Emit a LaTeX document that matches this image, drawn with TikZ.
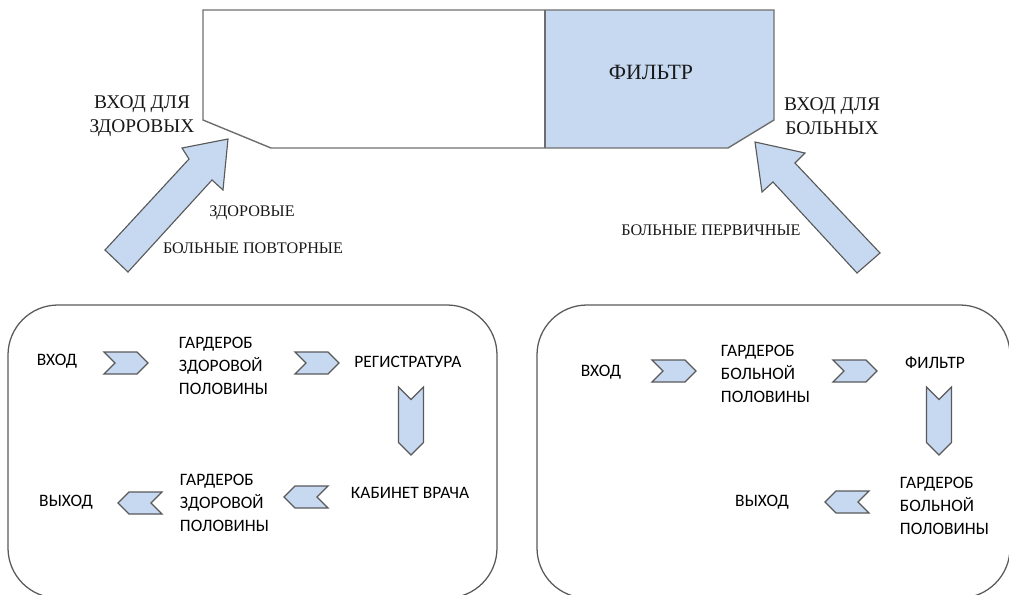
\documentclass[tikz,border=0pt]{standalone}
\usepackage{fontspec}
\setmainfont{Liberation Serif}
\newfontfamily\calfont{Carlito}
\usepackage{xcolor}
\usepackage{tikz}
\usetikzlibrary{shapes.symbols}
\definecolor{wdBlue}{HTML}{C6D9F1}
\definecolor{wdLine}{HTML}{595959}
\definecolor{wdWall}{HTML}{6E6E6E}

\tikzset{
  serifbig/.style={font=\fontsize{13.8}{17}\selectfont,align=center,black!90},
  serifsmall/.style={font=\fontsize{11.5}{14}\selectfont,black!90},
  room/.style={font=\calfont\fontsize{12.4}{16.4}\selectfont,align=left,black},
  chev/.style={signal,draw=wdLine,fill=wdBlue,line width=0.9pt,inner sep=0pt,
    minimum width=1.1cm,minimum height=0.55cm},
  chevdown/.style={signal,draw=wdLine,fill=wdBlue,line width=0.9pt,inner sep=0pt,
    minimum width=0.625cm,minimum height=1.075cm,signal from=north,signal to=south}
}

\begin{document}
\begin{tikzpicture}[x=0.025cm,y=-0.025cm]
\useasboundingbox (0,0) rectangle (1009,594);
\clip (0,0) rectangle (1009,594);
% building
\fill[wdBlue] (545,10) -- (774,10) -- (774,120) -- (728,148) -- (545,148) -- cycle;
\draw[wdWall,line width=1pt] (203,10) -- (774,10) -- (774,120) -- (728,148) -- (271,148) -- (203,120) -- cycle;
\draw[wdWall,line width=1pt] (545,10) -- (545,148);
\node[font=\fontsize{15.5}{18}\selectfont,black!90] (filterTop) at (651,72) {ФИЛЬТР};
\node[serifbig] (inHealthy) at (142,116) {ВХОД ДЛЯ\\ЗДОРОВЫХ};
\node[serifbig] (inSick) at (832,116) {ВХОД ДЛЯ\\БОЛЬНЫХ};
% block arrows
\filldraw[fill=wdBlue,draw=wdLine,line width=0.8pt] (228,139) -- (182,148) -- (189,159) -- (105,250) -- (128,272) -- (212,180) -- (223,190) -- cycle;
\filldraw[fill=wdBlue,draw=wdLine,line width=0.8pt] (755,142) -- (805,153) -- (795,163) -- (880,253) -- (857,273) -- (773,182) -- (762,192) -- cycle;
\node[serifsmall] (lblHealthy) at (252,213) {ЗДОРОВЫЕ};
\node[serifsmall] (lblRepeat) at (253,248) {БОЛЬНЫЕ ПОВТОРНЫЕ};
\node[serifsmall] (lblFirst) at (711,230) {БОЛЬНЫЕ ПЕРВИЧНЫЕ};
% healthy half
\draw[wdLine,line width=0.9pt,rounded corners=1.25cm] (8,305) rectangle (497,598);
\node[room] (hIn) at (57,361) {ВХОД};
\node[chev,signal from=west,signal to=east] (hC1) at (126,363) {};
\node[room,anchor=west] (hWard1) at (174,366) {ГАРДЕРОБ\\ЗДОРОВОЙ\\ПОЛОВИНЫ};
\node[chev,signal from=west,signal to=east] (hC2) at (317,363) {};
\node[room] (hReg) at (408,362) {РЕГИСТРАТУРА};
\node[chevdown] (hC3) at (411,421) {};
\node[room] (hDoc) at (410,493) {КАБИНЕТ ВРАЧА};
\node[chev,signal from=east,signal to=west] (hC4) at (306,497) {};
\node[room,anchor=west] (hWard2) at (175,503) {ГАРДЕРОБ\\ЗДОРОВОЙ\\ПОЛОВИНЫ};
\node[chev,signal from=east,signal to=west] (hC5) at (140,503) {};
\node[room] (hOut) at (66,502) {ВЫХОД};
% sick half
\draw[wdLine,line width=0.9pt,rounded corners=1.25cm] (537,305) rectangle (1010,598);
\node[room] (sIn) at (601,372) {ВХОД};
\node[chev,signal from=west,signal to=east] (sC1) at (674,371) {};
\node[room,anchor=west] (sWard1) at (716,374) {ГАРДЕРОБ\\БОЛЬНОЙ\\ПОЛОВИНЫ};
\node[chev,signal from=west,signal to=east] (sC2) at (855,371) {};
\node[room] (sFilter) at (935,363) {ФИЛЬТР};
\node[chevdown] (sC3) at (939,421) {};
\node[room,anchor=west] (sWard2) at (895,506) {ГАРДЕРОБ\\БОЛЬНОЙ\\ПОЛОВИНЫ};
\node[chev,signal from=east,signal to=west] (sC4) at (847,502) {};
\node[room] (sOut) at (762,502) {ВЫХОД};
\end{tikzpicture}
\end{document}
